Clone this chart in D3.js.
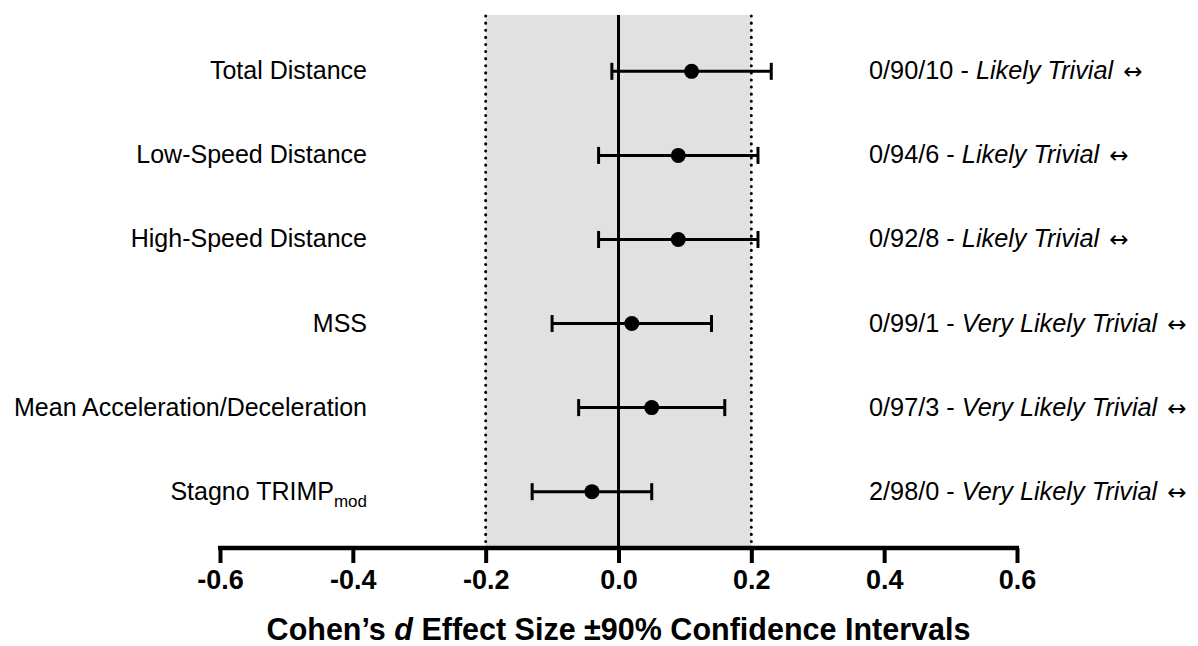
<!DOCTYPE html>
<html>
<head>
<meta charset="utf-8">
<script src="https://cdn.jsdelivr.net/npm/d3@7"></script>
<style>
  body { margin: 0; background: #fff; }
  svg { display: block; }
</style>
</head>
<body>
<div id="chart"></div>
<script>
// outcome measures, top to bottom
const measures = ["Total Distance", "Low-Speed Distance", "High-Speed Distance", "MSS",
  "Mean Acceleration/Deceleration", "Stagno TRIMP"];
const measureSubs = ["", "", "", "", "", "mod"];
// Cohen's d and 90% CI
const effect = [0.11, 0.09, 0.09, 0.02, 0.05, -0.04];
const ciLow = [-0.01, -0.03, -0.03, -0.10, -0.06, -0.13];
const ciHigh = [0.23, 0.21, 0.21, 0.14, 0.16, 0.05];
// chances (harmful/trivial/beneficial) and inference
const chances = ["0/90/10", "0/94/6", "0/92/8", "0/99/1", "0/97/3", "2/98/0"];
const inference = ["Likely Trivial", "Likely Trivial", "Likely Trivial",
  "Very Likely Trivial", "Very Likely Trivial", "Very Likely Trivial"];
const xTicks = [-0.6, -0.4, -0.2, 0.0, 0.2, 0.4, 0.6];
const trivialBand = [-0.2, 0.2];

var width = 1198, height = 646;
var plot = { left: 220, right: 1017, top: 15, bottom: 548 };

var svg = d3.select("#chart")
  .append("svg")
  .attr("width", width)
  .attr("height", height)
  .style("font-family", "'Liberation Sans', Arial, Helvetica, sans-serif");

var x = d3.scaleLinear().domain([-0.6, 0.6]).range([plot.left, plot.right]);
var y = d3.scalePoint().domain(measures).range([plot.top, plot.bottom]).padding(0.67);

// trivial region shading
svg.append("rect")
  .attr("x", x(trivialBand[0]))
  .attr("y", plot.top)
  .attr("width", x(trivialBand[1]) - x(trivialBand[0]))
  .attr("height", plot.bottom - plot.top)
  .attr("fill", "#e1e1e1");

// dotted boundaries at +-0.2
svg.selectAll(".bound")
  .data(trivialBand)
  .enter().append("line")
  .attr("class", "bound")
  .attr("x1", d => x(d)).attr("x2", d => x(d))
  .attr("y1", plot.top + 1).attr("y2", plot.bottom)
  .attr("stroke", "#000")
  .attr("stroke-width", 3)
  .attr("stroke-linecap", "round")
  .attr("stroke-dasharray", "0.1,7");

// zero line
svg.append("line")
  .attr("x1", x(0)).attr("x2", x(0))
  .attr("y1", plot.top).attr("y2", plot.bottom)
  .attr("stroke", "#000")
  .attr("stroke-width", 3);

// x axis
var fmt = d3.formatLocale({ decimal: ".", thousands: ",", grouping: [3], currency: ["", ""], minus: "-" }).format(".1f");
var xAxis = d3.axisBottom(x).tickValues(xTicks).tickFormat(fmt).tickSize(15).tickSizeOuter(0).tickPadding(7);
var gx = svg.append("g")
  .attr("transform", "translate(0," + plot.bottom + ")")
  .call(xAxis);
gx.select(".domain").attr("stroke-width", 4.5).attr("d", "M" + (plot.left - 2) + ",0H" + (plot.right + 2));
gx.selectAll(".tick line").attr("stroke-width", 4);
gx.selectAll(".tick text")
  .attr("fill", "#000")
  .style("font-size", "27px")
  .style("font-weight", "bold");

// axis title
var title = svg.append("text")
  .attr("x", x(0))
  .attr("y", 640)
  .attr("text-anchor", "middle")
  .style("font-size", "30.5px")
  .style("font-weight", "bold");
title.append("tspan").text("Cohen\u2019s ");
title.append("tspan").style("font-style", "italic").text("d");
title.append("tspan").text(" Effect Size \u00b190% Confidence Intervals");

var rows = measures.map((m, i) => ({
  name: m, sub: measureSubs[i], d: effect[i], lo: ciLow[i], hi: ciHigh[i],
  chance: chances[i], inf: inference[i]
}));

// error bars
var bars = svg.selectAll(".ci")
  .data(rows)
  .enter().append("g")
  .attr("class", "ci");
bars.append("line")
  .attr("x1", d => x(d.lo)).attr("x2", d => x(d.hi))
  .attr("y1", d => y(d.name)).attr("y2", d => y(d.name))
  .attr("stroke", "#000").attr("stroke-width", 3);
bars.append("line")
  .attr("x1", d => x(d.lo)).attr("x2", d => x(d.lo))
  .attr("y1", d => y(d.name) - 8.5).attr("y2", d => y(d.name) + 8.5)
  .attr("stroke", "#000").attr("stroke-width", 3);
bars.append("line")
  .attr("x1", d => x(d.hi)).attr("x2", d => x(d.hi))
  .attr("y1", d => y(d.name) - 8.5).attr("y2", d => y(d.name) + 8.5)
  .attr("stroke", "#000").attr("stroke-width", 3);
bars.append("circle")
  .attr("cx", d => x(d.d))
  .attr("cy", d => y(d.name))
  .attr("r", 7.5)
  .attr("fill", "#000");

// measure labels on the left
var labels = svg.selectAll(".label")
  .data(rows)
  .enter().append("text")
  .attr("class", "label")
  .attr("x", 367)
  .attr("y", d => y(d.name) + 8)
  .attr("text-anchor", "end")
  .style("font-size", "25px");
labels.append("tspan").text(d => d.name);
labels.filter(d => d.sub)
  .append("tspan")
  .attr("dy", 7)
  .style("font-size", "17px")
  .text(d => d.sub);

// chances / inference on the right
var right = svg.selectAll(".inf")
  .data(rows)
  .enter().append("text")
  .attr("class", "inf")
  .attr("x", 869)
  .attr("y", d => y(d.name) + 8)
  .style("font-size", "25.3px");
right.append("tspan").text(d => d.chance + " - ");
right.append("tspan").style("font-style", "italic").text(d => d.inf);
right.append("tspan").text(" ");
right.append("tspan")
  .attr("dx", 3)
  .style("font-family", "'DejaVu Sans', sans-serif")
  .style("font-size", "23px")
  .text("\u2194");
</script>
</body>
</html>
